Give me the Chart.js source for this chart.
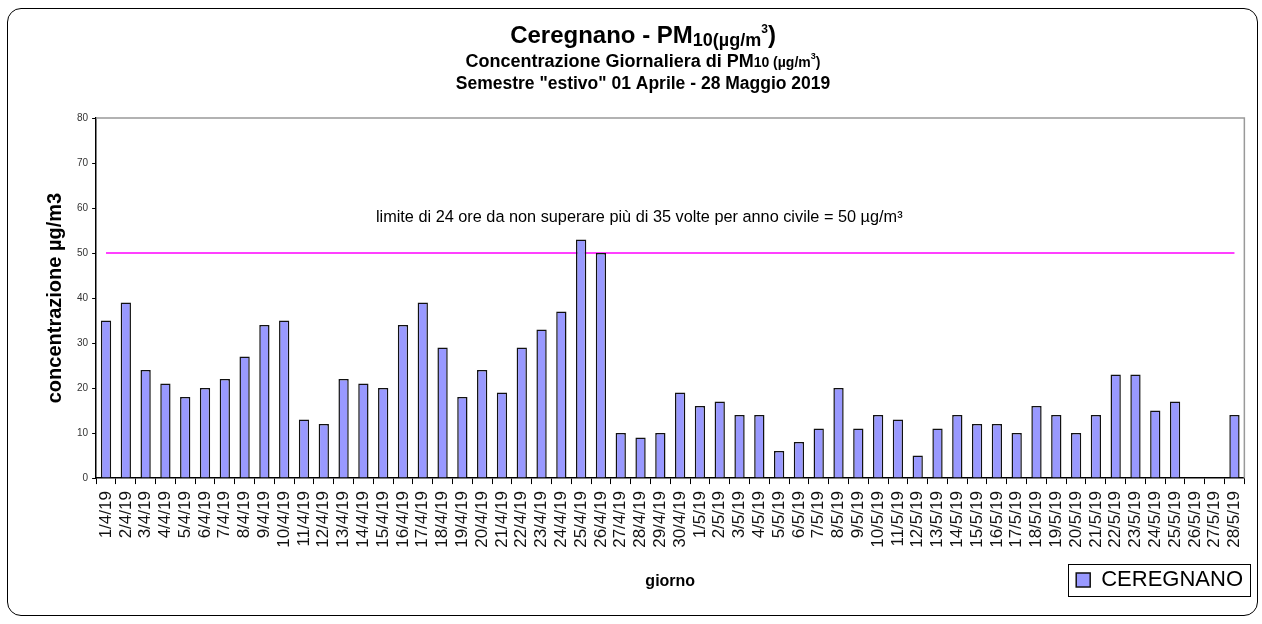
<!DOCTYPE html>
<html>
<head>
<meta charset="utf-8">
<script src="https://cdn.jsdelivr.net/npm/chart.js@4/dist/chart.umd.min.js"></script>
<style>
  html, body { margin: 0; padding: 0; background: #fff; }
  #wrap { position: relative; width: 1262px; height: 624px; }
  #wrap canvas { display: block; }
  #frame {
    position: absolute; left: 7px; top: 8px; width: 1251px; height: 608px;
    box-sizing: border-box; border: 1.5px solid #000; border-radius: 14px;
    pointer-events: none;
  }
</style>
</head>
<body>
<div id="wrap">
  <canvas id="pmChart" width="1262" height="624"></canvas>
  <div id="frame"></div>
</div>
<script>
// giorni del semestre estivo (1 aprile - 28 maggio 2019)
const days = [
  '1/4/19', '2/4/19', '3/4/19', '4/4/19', '5/4/19', '6/4/19', '7/4/19', '8/4/19', '9/4/19', '10/4/19',
  '11/4/19', '12/4/19', '13/4/19', '14/4/19', '15/4/19', '16/4/19', '17/4/19', '18/4/19', '19/4/19', '20/4/19',
  '21/4/19', '22/4/19', '23/4/19', '24/4/19', '25/4/19', '26/4/19', '27/4/19', '28/4/19', '29/4/19', '30/4/19',
  '1/5/19', '2/5/19', '3/5/19', '4/5/19', '5/5/19', '6/5/19', '7/5/19', '8/5/19', '9/5/19', '10/5/19',
  '11/5/19', '12/5/19', '13/5/19', '14/5/19', '15/5/19', '16/5/19', '17/5/19', '18/5/19', '19/5/19', '20/5/19',
  '21/5/19', '22/5/19', '23/5/19', '24/5/19', '25/5/19', '26/5/19', '27/5/19', '28/5/19'
];

// PM10 giornaliero, µg/m3 (null = dato mancante)
const pm10 = [
  35, 39, 24, 21, 18, 20, 22, 27, 34, 35,
  13, 12, 22, 21, 20, 34, 39, 29, 18, 24,
  19, 29, 33, 37, 53, 50, 10, 9, 10, 19,
  16, 17, 14, 14, 6, 8, 11, 20, 11, 14,
  13, 5, 11, 14, 12, 12, 10, 16, 14, 10,
  14, 23, 23, 15, 17, null, null, 14
];

const stationName = 'CEREGNANO';
const limitValue = 50;
const limitText = 'limite di 24 ore da non superare più di 35 volte per anno civile = 50 µg/m³';
const yMin = 0, yMax = 80, yStep = 10;

const FONT = '"Liberation Sans", Arial, sans-serif';
Chart.defaults.font.family = FONT;
Chart.defaults.color = '#000';

function drawRuns(ctx, runs, cx, y) {
  let total = 0;
  runs.forEach(r => {
    ctx.font = r.font;
    r.w = ctx.measureText(r.text).width;
    total += r.w;
  });
  let x = cx - total / 2;
  ctx.textAlign = 'left';
  ctx.textBaseline = 'alphabetic';
  runs.forEach(r => {
    ctx.font = r.font;
    ctx.fillText(r.text, x, y + (r.dy || 0));
    x += r.w;
  });
}

const titlePlugin = {
  id: 'titles',
  afterDraw(chart) {
    const ctx = chart.ctx;
    const cx = 643;
    ctx.save();
    ctx.fillStyle = '#000';
    drawRuns(ctx, [
      { text: 'Ceregnano - PM', font: 'bold 24px ' + FONT },
      { text: '10(µg/m', font: 'bold 18px ' + FONT, dy: 3 },
      { text: '3', font: 'bold 12px ' + FONT, dy: -10 },
      { text: ')', font: 'bold 24px ' + FONT }
    ], cx, 43);
    drawRuns(ctx, [
      { text: 'Concentrazione Giornaliera di PM', font: 'bold 18px ' + FONT },
      { text: '10 (µg/m', font: 'bold 14px ' + FONT },
      { text: '3', font: 'bold 9px ' + FONT, dy: -8 },
      { text: ')', font: 'bold 14px ' + FONT }
    ], cx, 67);
    drawRuns(ctx, [
      { text: 'Semestre "estivo" 01 Aprile - 28 Maggio 2019', font: 'bold 17.5px ' + FONT }
    ], cx, 89);
    ctx.restore();
  }
};

const framePlugin = {
  id: 'plotFrame',
  beforeDatasetsDraw(chart) {
    const { ctx, chartArea: a } = chart;
    ctx.save();
    ctx.strokeStyle = '#999';
    ctx.lineWidth = 1.5;
    ctx.beginPath();
    ctx.moveTo(a.left, a.top);
    ctx.lineTo(a.right, a.top);
    ctx.lineTo(a.right, a.bottom);
    ctx.stroke();
    ctx.restore();
  },
  afterDatasetsDraw(chart) {
    const { ctx, chartArea: a, scales } = chart;
    ctx.save();
    ctx.fillStyle = '#000';
    ctx.font = '16.3px ' + FONT;
    ctx.textAlign = 'center';
    ctx.textBaseline = 'middle';
    ctx.fillText(limitText, (a.left + a.right) / 2 - 31, scales.y.getPixelForValue(limitValue) - 36);
    ctx.restore();
  }
};

const legendPlugin = {
  id: 'legendBox',
  afterLayout(chart) {
    // legenda sulla stessa riga del titolo dell'asse x
    const lg = chart.legend;
    const xs = chart.scales.x;
    const titleCenter = xs.bottom - 9.6;
    const shift = titleCenter + 2 - (lg.top + lg.height / 2);
    lg.top += shift;
    lg.bottom += shift;
  },
  afterDraw(chart) {
    const lg = chart.legend;
    if (!lg.legendHitBoxes || !lg.legendHitBoxes.length) return;
    const hb = lg.legendHitBoxes[0];
    const cy = hb.top + hb.height / 2;
    const ctx = chart.ctx;
    ctx.save();
    ctx.strokeStyle = '#000';
    ctx.lineWidth = 1;
    ctx.strokeRect(Math.round(hb.left - 8) + 0.5, Math.round(cy - 16) + 0.5, Math.round(hb.width + 15), 32);
    ctx.restore();
  }
};

new Chart(document.getElementById('pmChart'), {
  type: 'bar',
  data: {
    labels: days,
    datasets: [{
      type: 'bar',
      label: stationName,
      data: pm10,
      backgroundColor: '#9999ff',
      borderColor: '#111',
      borderWidth: 1.5,
      barPercentage: 0.52,
      categoryPercentage: 1,
      order: 1
    }, {
      type: 'line',
      label: 'limite',
      data: days.map(() => limitValue),
      borderColor: '#ff00ff',
      borderWidth: 1.5,
      pointRadius: 0,
      fill: false,
      order: 2
    }]
  },
  options: {
    responsive: false,
    animation: false,
    layout: { padding: { top: 118, left: 19, right: 16, bottom: -2 } },
    plugins: {
      title: { display: false },
      tooltip: { enabled: false },
      legend: {
        position: 'bottom',
        align: 'end',
        labels: {
          boxWidth: 14,
          boxHeight: 14,
          padding: 3,
          color: '#000',
          font: { size: 22 },
          filter: item => item.datasetIndex === 0
        }
      }
    },
    scales: {
      x: {
        grid: { drawOnChartArea: false, drawTicks: true, tickLength: 6, color: '#000' },
        border: { color: '#000', width: 1.5 },
        ticks: {
          autoSkip: false,
          minRotation: 90,
          maxRotation: 90,
          padding: 7,
          color: '#111',
          font: { size: 17 }
        },
        title: {
          display: true,
          text: 'giorno',
          color: '#000',
          font: { size: 16, weight: 'bold' },
          padding: { top: 17, bottom: 0 }
        }
      },
      y: {
        min: yMin,
        max: yMax,
        grid: { drawOnChartArea: false, drawTicks: true, tickLength: 4, color: '#000' },
        border: { color: '#000', width: 1.5 },
        ticks: {
          stepSize: yStep,
          padding: 4,
          color: '#333',
          font: { size: 10 }
        },
        title: {
          display: true,
          text: 'concentrazione µg/m3',
          color: '#000',
          font: { size: 20, weight: 'bold' },
          padding: { top: 24, bottom: 6 }
        }
      }
    }
  },
  plugins: [titlePlugin, framePlugin, legendPlugin]
});
</script>
</body>
</html>
